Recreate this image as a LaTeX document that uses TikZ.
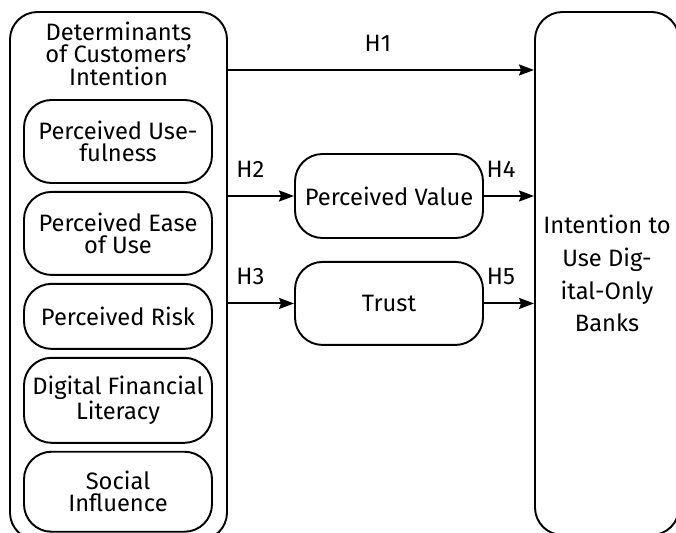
\documentclass[tikz,border=0pt]{standalone}
\usepackage{fontspec}
\setmainfont{Fira Sans}
\usepackage{tikz}
\usetikzlibrary{positioning}
\usetikzlibrary{shapes,arrows,calc,arrows.meta}

\begin{document}
\begin{tikzpicture}[node distance=0.14cm,
    every node/.style={font=\fontsize{13.5}{12.6}\selectfont},
    factor/.style={draw, rectangle, rounded corners=0.55cm, line width=1.1pt, minimum width=3.76cm, minimum height=1.66cm, align=center},
    bigbox/.style={draw, rectangle, rounded corners=0.55cm, line width=1.1pt},
    link/.style={-{Stealth[length=3mm, width=2.2mm, inset=0.4mm]}, line width=1.1pt},
    hlabel/.style={above=0.24cm}]
    \useasboundingbox (0,0) rectangle (13.52,-10.66);
    % Nodes
    \node [bigbox, minimum width=4.34cm, minimum height=10.56cm] (det) at (2.37,-5.52) {};
    \node [below=0.1cm of det.north, align=center] (dettitle) {Determinants\\of Customers'\\Intention};
    \node [factor] (pu) at (2.36,-2.83) {Perceived Use-\\fulness};
    \node [factor, below=of pu] (peou) {Perceived Ease\\of Use};
    \node [factor, minimum height=1.3cm, below=of peou] (risk) {Perceived Risk};
    \node [factor, minimum height=1.7cm, below=of risk] (dfl) {Digital Financial\\Literacy};
    \node [factor, minimum height=1.6cm, below=of dfl] (social) {Social\\Influence};

    \node [bigbox, minimum width=2.88cm, minimum height=10.46cm, align=center, font=\fontsize{13.5}{18.7}\selectfont] (intent) at (12.14,-5.47) {Intention to\\Use Dig-\\ital-Only\\Banks};

    \node [factor, minimum height=1.68cm] (value) at (7.78,-3.92) {Perceived Value};
    \node [factor, below=0.44cm of value] (trust) {Trust};

    \coordinate (h1) at (0,-1.4);

    % Arrows
    \draw [link] (det.east |- h1) -- node[hlabel, pos=0.49] {H1} (intent.west |- h1);
    \draw [link] (det.east |- value) -- node[hlabel, pos=0.34] {H2} (value.west);
    \draw [link] (value.east) -- node[hlabel, pos=0.34] {H4} (intent.west |- value);
    \draw [link] (det.east |- trust) -- node[hlabel, pos=0.34] {H3} (trust.west);
    \draw [link] (trust.east) -- node[hlabel, pos=0.34] {H5} (intent.west |- trust);
  \end{tikzpicture}
\end{document}
